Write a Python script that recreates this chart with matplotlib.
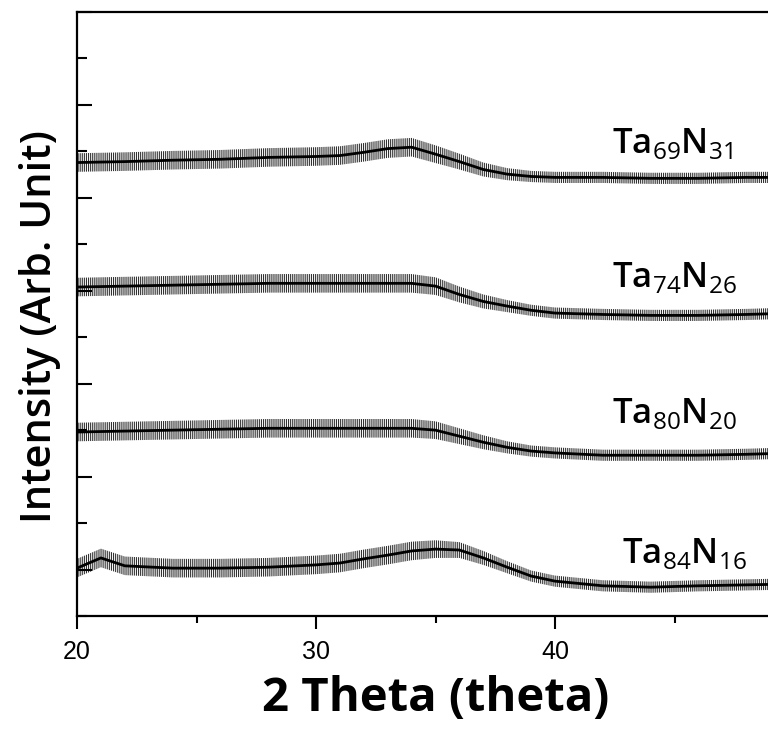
import numpy as np
import matplotlib
matplotlib.use('Agg')
import matplotlib.pyplot as plt
from matplotlib.ticker import FixedLocator, MultipleLocator

plt.rcParams['font.family'] = ['Open Sans', 'DejaVu Sans']
plt.rcParams['mathtext.fontset'] = 'custom'
plt.rcParams['mathtext.rm'] = 'Open Sans'
plt.rcParams['mathtext.bf'] = 'Open Sans:semibold'
plt.rcParams['hatch.linewidth'] = 0.8

# 2-theta positions
two_theta = [20, 21, 22, 24, 26, 28, 30, 31, 32, 33, 34, 35, 36, 37, 38, 39, 40, 42, 44, 46, 48, 50]

# mean intensity (arb. unit, offset stacked) for each sample
ta69n31 = [9.76, 9.77, 9.78, 9.81, 9.83, 9.87, 9.89, 9.91, 9.98, 10.06, 10.09, 9.94,
           9.78, 9.61, 9.51, 9.46, 9.44, 9.44, 9.42, 9.42, 9.44, 9.44]
ta74n26 = [7.08, 7.09, 7.10, 7.12, 7.14, 7.16, 7.16, 7.16, 7.16, 7.16, 7.16, 7.10,
           6.92, 6.77, 6.67, 6.58, 6.52, 6.49, 6.47, 6.47, 6.49, 6.52]
ta80n20 = [3.96, 3.97, 3.98, 4.00, 4.02, 4.04, 4.04, 4.04, 4.04, 4.04, 4.04, 4.00,
           3.87, 3.74, 3.63, 3.55, 3.51, 3.46, 3.46, 3.46, 3.48, 3.51]
ta84n16 = [1.03, 1.25, 1.08, 1.03, 1.03, 1.05, 1.10, 1.14, 1.23, 1.31, 1.40, 1.44,
           1.42, 1.25, 1.05, 0.86, 0.75, 0.65, 0.62, 0.65, 0.67, 0.69]

# half width of the noise band (arb. unit)
noise = [0.2, 0.2, 0.2, 0.2, 0.2, 0.2, 0.2, 0.2, 0.2, 0.2, 0.2, 0.19,
         0.17, 0.15, 0.13, 0.12, 0.12, 0.12, 0.12, 0.12, 0.12, 0.12]

samples = [ta69n31, ta74n26, ta80n20, ta84n16]
labels = [r'$\mathbf{Ta}_{69}\mathbf{N}_{31}$', r'$\mathbf{Ta}_{74}\mathbf{N}_{26}$',
          r'$\mathbf{Ta}_{80}\mathbf{N}_{20}$', r'$\mathbf{Ta}_{84}\mathbf{N}_{16}$']
label_pos = [(42.38, 9.96), (42.38, 7.08), (42.38, 4.15), (42.8, 1.14)]

fig = plt.figure(figsize=(7.68, 7.29), dpi=100)
ax = fig.add_axes([77/768, 113/729, 717/768, 604/729])

x = np.array(two_theta)
s = np.array(noise)
for y, lab, (lx, ly) in zip(samples, labels, label_pos):
    y = np.array(y)
    ax.fill_between(x, y - s, y + s, facecolor='none', edgecolor='0.2',
                    hatch='||||||||', linewidth=0)
    ax.plot(x, y, color='black', lw=2.0)
    ax.text(lx, ly, lab, fontsize=25, ha='left', va='baseline')

ax.set_xlim(20, 50)
ax.set_ylim(0, 13)

ax.xaxis.set_major_locator(FixedLocator([20, 30, 40]))
ax.xaxis.set_minor_locator(FixedLocator([25, 35, 45]))
ax.yaxis.set_major_locator(MultipleLocator(2, offset=1))
ax.yaxis.set_minor_locator(MultipleLocator(1))
ax.set_yticklabels([])
ax.tick_params(axis='x', which='major', direction='out', length=9, width=1.5,
               labelsize=18, pad=8)
ax.tick_params(axis='x', which='minor', direction='out', length=5, width=1.5)
ax.tick_params(axis='y', which='major', direction='in', length=11, width=1.5)
ax.tick_params(axis='y', which='minor', direction='in', length=7, width=1.5)
for t in ax.get_xticklabels():
    t.set_family('Liberation Sans')
for sp in ax.spines.values():
    sp.set_linewidth(1.6)

ax.set_xlabel('2 Theta (theta)', fontsize=34, fontweight='bold', labelpad=8)
ax.set_ylabel('Intensity (Arb. Unit)', fontsize=30, fontweight='semibold')
ax.yaxis.set_label_coords(-0.022, 0.48)

fig.savefig('out.png', dpi=100)
